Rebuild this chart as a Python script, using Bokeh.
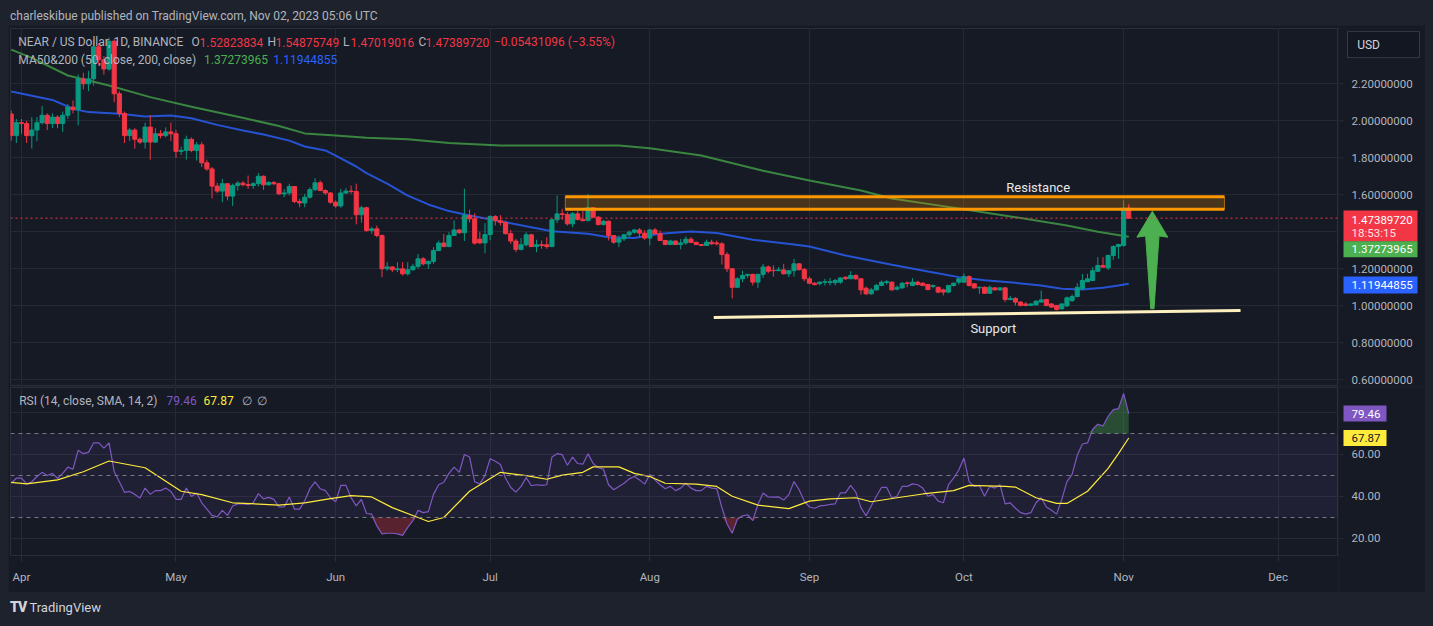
import numpy as np
import pandas as pd
from bokeh.plotting import figure
from bokeh.models import (ColumnDataSource, Range1d, FixedTicker, Span, BoxAnnotation, Label,
                          DatetimeTickFormatter, Div)
from bokeh.core.properties import value
from bokeh.layouts import column, row
from bokeh.embed import file_html
from bokeh.resources import INLINE

# ---------------------------------------------------------------- data
dates = pd.date_range("2023-03-30", "2023-11-02", freq="D")

open_ = [
    2.037, 1.920,
    1.990, 1.985, 1.920, 1.950, 1.990, 2.030, 1.985, 2.020, 1.985, 2.030, 2.074, 2.060, 2.227, 2.200, 2.227,
    2.400, 2.330, 2.280, 2.430, 2.146, 2.040, 1.920, 1.950, 1.900, 1.885, 1.966, 1.885, 1.930, 1.920, 1.940,
    1.930, 1.835, 1.840, 1.900, 1.840, 1.870, 1.773, 1.740, 1.647, 1.620, 1.660, 1.593, 1.650, 1.663, 1.655,
    1.650, 1.660, 1.700, 1.654, 1.666, 1.660, 1.605, 1.610, 1.645, 1.564, 1.556, 1.587, 1.628, 1.665, 1.623, 1.610,
    1.560, 1.540, 1.610, 1.620, 1.618, 1.492, 1.530, 1.407, 1.416, 1.380, 1.200, 1.210, 1.195, 1.200, 1.173,
    1.195, 1.213, 1.254, 1.227, 1.240, 1.299, 1.339, 1.320, 1.380, 1.410, 1.395, 1.488, 1.470, 1.360, 1.340,
    1.385, 1.483, 1.460, 1.450, 1.390, 1.350, 1.305, 1.330, 1.384, 1.320, 1.330, 1.330, 1.320, 1.465, 1.497,
    1.494, 1.443, 1.497, 1.467, 1.460, 1.530, 1.479, 1.440, 1.457, 1.380, 1.344, 1.362, 1.384, 1.398, 1.410, 1.393,
    1.366, 1.410, 1.390, 1.353, 1.331, 1.350, 1.331, 1.340, 1.360, 1.343, 1.331, 1.326, 1.344, 1.340, 1.335,
    1.277, 1.200, 1.100, 1.146, 1.164, 1.170, 1.128, 1.170, 1.210, 1.192, 1.190, 1.194, 1.173, 1.190, 1.227, 1.196,
    1.146, 1.122, 1.120, 1.128, 1.126, 1.125, 1.128, 1.155, 1.146, 1.164, 1.146, 1.095, 1.065, 1.086, 1.110,
    1.126, 1.128, 1.090, 1.097, 1.124, 1.110, 1.128, 1.122, 1.115, 1.105, 1.100, 1.086, 1.074, 1.110, 1.128,
    1.128, 1.158, 1.119, 1.097, 1.100, 1.068, 1.097, 1.086, 1.097, 1.034, 1.040, 1.020, 1.010, 1.002, 1.005,
    1.020, 1.034, 1.010, 1.002, 0.984, 1.000, 1.029, 1.050, 1.092, 1.130, 1.137, 1.187, 1.218, 1.205, 1.272, 1.320,
    1.326, 1.52823834,
]
high = [
    2.055, 2.010,
    2.010, 2.000, 2.020, 2.020, 2.080, 2.040, 2.040, 2.030, 2.050, 2.090, 2.110, 2.250, 2.260, 2.270, 2.440,
    2.420, 2.350, 2.450, 2.440, 2.160, 2.050, 1.960, 1.960, 1.910, 1.990, 2.030, 1.960, 1.950, 1.965, 1.990,
    1.950, 1.860, 1.920, 1.910, 1.885, 1.885, 1.790, 1.750, 1.665, 1.686, 1.660, 1.660, 1.674, 1.674, 1.704,
    1.668, 1.717, 1.705, 1.675, 1.674, 1.665, 1.630, 1.660, 1.645, 1.578, 1.605, 1.640, 1.690, 1.677, 1.630, 1.614,
    1.570, 1.632, 1.636, 1.650, 1.660, 1.540, 1.535, 1.425, 1.434, 1.385, 1.236, 1.214, 1.236, 1.236, 1.236,
    1.227, 1.280, 1.263, 1.245, 1.317, 1.353, 1.389, 1.398, 1.461, 1.416, 1.633, 1.520, 1.500, 1.400, 1.447,
    1.490, 1.490, 1.490, 1.460, 1.410, 1.362, 1.367, 1.398, 1.389, 1.357, 1.353, 1.371, 1.470, 1.596, 1.524,
    1.506, 1.506, 1.515, 1.515, 1.605, 1.533, 1.485, 1.465, 1.461, 1.380, 1.380, 1.389, 1.407, 1.416, 1.420, 1.410,
    1.416, 1.420, 1.407, 1.357, 1.357, 1.353, 1.362, 1.375, 1.371, 1.347, 1.335, 1.357, 1.357, 1.353, 1.344,
    1.290, 1.205, 1.155, 1.190, 1.173, 1.173, 1.173, 1.227, 1.218, 1.218, 1.209, 1.227, 1.194, 1.254, 1.230, 1.205,
    1.158, 1.128, 1.131, 1.146, 1.150, 1.146, 1.155, 1.158, 1.187, 1.170, 1.150, 1.104, 1.097, 1.119, 1.137,
    1.140, 1.131, 1.110, 1.128, 1.131, 1.150, 1.135, 1.128, 1.119, 1.115, 1.104, 1.092, 1.113, 1.126, 1.150,
    1.175, 1.165, 1.122, 1.104, 1.104, 1.110, 1.100, 1.100, 1.100, 1.054, 1.047, 1.025, 1.020, 1.013, 1.029,
    1.083, 1.038, 1.013, 1.002, 1.013, 1.050, 1.061, 1.122, 1.173, 1.173, 1.209, 1.263, 1.263, 1.277, 1.326, 1.335,
    1.570, 1.54875749,
]
low = [
    1.893, 1.880,
    1.930, 1.880, 1.850, 1.890, 1.980, 1.950, 1.960, 1.960, 1.940, 2.010, 2.040, 1.975, 2.170, 2.160, 2.190,
    2.300, 2.250, 2.270, 2.100, 2.020, 1.880, 1.890, 1.850, 1.875, 1.850, 1.790, 1.880, 1.905, 1.910, 1.890,
    1.800, 1.815, 1.790, 1.830, 1.785, 1.750, 1.730, 1.580, 1.610, 1.560, 1.570, 1.540, 1.623, 1.645, 1.632,
    1.632, 1.645, 1.627, 1.650, 1.652, 1.600, 1.587, 1.597, 1.555, 1.533, 1.533, 1.580, 1.620, 1.620, 1.600, 1.552,
    1.530, 1.530, 1.605, 1.605, 1.440, 1.450, 1.400, 1.390, 1.370, 1.155, 1.190, 1.182, 1.182, 1.164, 1.164,
    1.190, 1.200, 1.218, 1.200, 1.227, 1.295, 1.317, 1.317, 1.380, 1.389, 1.350, 1.450, 1.330, 1.335, 1.284,
    1.354, 1.434, 1.434, 1.385, 1.335, 1.290, 1.300, 1.320, 1.317, 1.290, 1.308, 1.308, 1.317, 1.447, 1.465,
    1.434, 1.425, 1.461, 1.457, 1.460, 1.475, 1.434, 1.434, 1.353, 1.335, 1.317, 1.350, 1.371, 1.389, 1.371, 1.357,
    1.326, 1.385, 1.350, 1.328, 1.330, 1.328, 1.305, 1.330, 1.339, 1.328, 1.322, 1.326, 1.330, 1.326, 1.223,
    1.182, 1.040, 1.100, 1.128, 1.150, 1.110, 1.097, 1.151, 1.176, 1.158, 1.187, 1.169, 1.155, 1.158, 1.190, 1.133,
    1.119, 1.110, 1.110, 1.110, 1.110, 1.110, 1.119, 1.140, 1.146, 1.140, 1.060, 1.058, 1.060, 1.083, 1.106,
    1.115, 1.083, 1.083, 1.092, 1.101, 1.106, 1.110, 1.106, 1.083, 1.095, 1.068, 1.056, 1.068, 1.104, 1.115,
    1.126, 1.104, 1.092, 1.065, 1.065, 1.065, 1.083, 1.080, 1.020, 1.030, 1.002, 0.997, 0.997, 1.000, 1.002,
    1.020, 0.997, 0.990, 0.975, 0.979, 0.993, 1.020, 1.047, 1.086, 1.128, 1.133, 1.182, 1.205, 1.194, 1.249, 1.254,
    1.320, 1.47019016,
]
close = [
    1.920, 1.990,
    1.985, 1.920, 1.950, 1.990, 2.030, 1.985, 2.020, 1.985, 2.030, 2.074, 2.060, 2.227, 2.200, 2.227, 2.400,
    2.330, 2.280, 2.430, 2.146, 2.040, 1.920, 1.950, 1.900, 1.885, 1.966, 1.885, 1.930, 1.920, 1.940, 1.930,
    1.835, 1.840, 1.900, 1.840, 1.870, 1.773, 1.740, 1.647, 1.620, 1.660, 1.593, 1.650, 1.663, 1.655, 1.650,
    1.660, 1.700, 1.654, 1.666, 1.660, 1.605, 1.610, 1.645, 1.564, 1.556, 1.587, 1.628, 1.665, 1.623, 1.610, 1.560,
    1.540, 1.610, 1.620, 1.618, 1.492, 1.530, 1.407, 1.416, 1.380, 1.200, 1.210, 1.195, 1.200, 1.173, 1.195,
    1.213, 1.254, 1.227, 1.240, 1.299, 1.339, 1.320, 1.380, 1.410, 1.395, 1.488, 1.470, 1.339, 1.340, 1.385,
    1.483, 1.460, 1.450, 1.390, 1.350, 1.305, 1.330, 1.384, 1.320, 1.330, 1.326, 1.320, 1.465, 1.497, 1.494,
    1.443, 1.497, 1.467, 1.460, 1.530, 1.479, 1.440, 1.457, 1.380, 1.344, 1.362, 1.384, 1.398, 1.410, 1.393, 1.366,
    1.410, 1.390, 1.353, 1.331, 1.350, 1.331, 1.340, 1.360, 1.343, 1.331, 1.326, 1.344, 1.335, 1.335, 1.277,
    1.200, 1.100, 1.146, 1.164, 1.170, 1.128, 1.170, 1.210, 1.187, 1.190, 1.194, 1.173, 1.190, 1.227, 1.196, 1.146,
    1.122, 1.115, 1.128, 1.130, 1.130, 1.137, 1.150, 1.146, 1.164, 1.146, 1.086, 1.065, 1.086, 1.110, 1.128,
    1.130, 1.086, 1.100, 1.122, 1.120, 1.128, 1.115, 1.110, 1.088, 1.110, 1.074, 1.074, 1.110, 1.122, 1.146,
    1.158, 1.110, 1.097, 1.100, 1.068, 1.100, 1.086, 1.097, 1.034, 1.040, 1.020, 1.002, 1.002, 1.010, 1.025,
    1.032, 1.002, 0.993, 0.980, 1.010, 1.043, 1.050, 1.100, 1.137, 1.146, 1.190, 1.218, 1.209, 1.272, 1.320, 1.331,
    1.52823834, 1.47389720,
]
rsi = [
    46.3, 48.7,
    48.7, 46.0, 47.0, 49.5, 51.5, 50.0, 51.0, 48.7, 51.0, 54.0, 53.0, 62.0, 60.4, 61.0, 65.5,
    65.5, 63.0, 65.5, 51.8, 47.0, 42.0, 42.4, 41.0, 39.3, 44.0, 41.0, 42.8, 42.8, 44.0, 42.4,
    38.6, 38.6, 44.0, 40.0, 41.7, 37.0, 34.0, 31.0, 30.3, 33.4, 31.0, 35.5, 36.5, 36.5, 36.2,
    37.0, 41.4, 38.9, 39.6, 38.6, 35.0, 35.0, 39.8, 34.0, 34.0, 38.0, 43.7, 47.0, 43.7, 42.8, 39.4,
    37.5, 45.3, 45.3, 39.4, 35.5, 38.6, 31.9, 31.6, 26.0, 22.2, 22.5, 22.5, 22.2, 21.5, 25.3,
    28.5, 33.4, 32.3, 32.8, 41.0, 45.6, 46.8, 51.0, 54.0, 51.5, 60.0, 58.8, 47.0, 46.0, 50.0,
    58.0, 56.8, 55.2, 48.7, 44.3, 42.1, 44.8, 49.0, 45.1, 45.6, 45.3, 45.6, 58.8, 60.4, 59.9,
    54.9, 58.8, 55.7, 55.4, 60.4, 55.7, 53.7, 53.0, 45.6, 43.2, 44.8, 46.3, 48.4, 49.5, 47.9, 45.9,
    50.5, 47.9, 45.6, 43.7, 44.8, 42.8, 44.0, 46.3, 44.0, 42.8, 42.8, 44.8, 44.0, 43.7, 34.7,
    26.9, 22.5, 29.2, 30.8, 31.3, 28.5, 36.2, 41.7, 39.8, 39.7, 39.8, 38.3, 40.9, 47.1, 43.2, 37.8,
    35.0, 34.4, 35.5, 35.8, 36.2, 36.5, 41.7, 41.7, 45.3, 42.1, 34.7, 30.8, 35.5, 40.1, 44.3,
    44.3, 39.4, 40.1, 44.8, 44.8, 46.0, 45.6, 44.0, 40.1, 40.9, 37.8, 37.0, 45.6, 48.7, 52.6,
    58.3, 47.1, 44.8, 45.3, 40.1, 44.8, 44.0, 45.6, 36.5, 37.0, 34.4, 32.3, 31.6, 32.3, 37.0,
    39.4, 35.0, 33.4, 31.6, 38.6, 47.1, 50.5, 59.6, 65.0, 65.5, 72.0, 74.4, 73.6, 78.2, 81.4, 81.8,
    89.1, 79.46,
]

ma50_dates = ["2023-03-30", "2023-04-07", "2023-04-11", "2023-04-14", "2023-04-20", "2023-04-25",
              "2023-04-30", "2023-05-04", "2023-05-09", "2023-05-14", "2023-05-18", "2023-05-23",
              "2023-05-26", "2023-05-30", "2023-06-01", "2023-06-05", "2023-06-07", "2023-06-11",
              "2023-06-15", "2023-06-19", "2023-06-23", "2023-06-27", "2023-07-04", "2023-07-13",
              "2023-07-20", "2023-07-24", "2023-07-29", "2023-08-03", "2023-08-09", "2023-08-14",
              "2023-08-21", "2023-08-29", "2023-09-01", "2023-09-08", "2023-09-17", "2023-09-24",
              "2023-09-30", "2023-10-05", "2023-10-11", "2023-10-16", "2023-10-20", "2023-10-24",
              "2023-10-28", "2023-10-31", "2023-11-02"]
ma50_vals = [2.158, 2.113, 2.065, 2.047, 2.038, 2.023, 2.029, 2.014, 1.978, 1.948, 1.926, 1.893,
             1.861, 1.840, 1.812, 1.753, 1.717, 1.660, 1.596, 1.548, 1.512, 1.488, 1.452, 1.403,
             1.389, 1.371, 1.366, 1.389, 1.402, 1.393, 1.357, 1.332, 1.321, 1.272, 1.222, 1.185,
             1.155, 1.138, 1.124, 1.110, 1.092, 1.088, 1.097, 1.110, 1.11944855]

ma200_dates = ["2023-03-30", "2023-04-03", "2023-04-10", "2023-04-18", "2023-04-26", "2023-05-04",
               "2023-05-13", "2023-05-21", "2023-05-26", "2023-06-01", "2023-06-07", "2023-06-15",
               "2023-06-23", "2023-07-03", "2023-07-13", "2023-07-26", "2023-08-01", "2023-08-11",
               "2023-08-23", "2023-09-01", "2023-09-11", "2023-09-17", "2023-09-24", "2023-09-30",
               "2023-10-11", "2023-10-21", "2023-10-27", "2023-11-02"]
ma200_vals = [2.385, 2.340, 2.245, 2.191, 2.128, 2.076, 2.022, 1.972, 1.932, 1.921, 1.908, 1.900,
              1.880, 1.866, 1.866, 1.866, 1.852, 1.812, 1.730, 1.677, 1.623, 1.580, 1.551, 1.526,
              1.479, 1.434, 1.400, 1.37273965]

rsi_ma_dates = ["2023-03-30", "2023-04-02", "2023-04-08", "2023-04-13", "2023-04-18", "2023-04-25",
                "2023-05-02", "2023-05-06", "2023-05-12", "2023-05-21", "2023-05-26", "2023-05-31",
                "2023-06-04", "2023-06-08", "2023-06-12", "2023-06-17", "2023-06-19", "2023-06-22",
                "2023-06-27", "2023-07-03", "2023-07-08", "2023-07-12", "2023-07-15", "2023-07-19",
                "2023-07-21", "2023-07-26", "2023-07-29", "2023-08-01", "2023-08-04", "2023-08-10",
                "2023-08-14", "2023-08-17", "2023-08-22", "2023-08-28", "2023-09-01", "2023-09-05",
                "2023-09-10", "2023-09-13", "2023-09-18", "2023-09-23", "2023-09-29", "2023-10-02",
                "2023-10-09", "2023-10-11", "2023-10-15", "2023-10-19", "2023-10-21", "2023-10-25",
                "2023-10-29", "2023-10-31", "2023-11-02"]
rsi_ma_vals = [46.7, 46.0, 47.9, 51.8, 56.9, 53.7, 42.5, 40.9, 37.0, 35.9, 37.0, 39.0, 40.4, 39.8,
               34.7, 30.0, 28.1, 30.0, 42.5, 51.5, 49.9, 48.2, 50.2, 51.5, 54.1, 54.1, 51.0, 49.5,
               46.3, 45.9, 44.8, 40.1, 35.9, 34.2, 37.8, 38.9, 39.4, 37.5, 39.4, 41.2, 42.8, 45.3,
               44.8, 44.5, 39.4, 36.7, 36.7, 42.5, 53.4, 60.4, 67.87]

month_ticks = ["2023-04-01", "2023-05-01", "2023-06-01", "2023-07-01", "2023-08-01",
               "2023-09-01", "2023-10-01", "2023-11-01", "2023-12-01"]
price_ticks = [0.6, 0.8, 1.0, 1.2, 1.6, 1.8, 2.0, 2.2]
price_grid = [0.6, 0.8, 1.0, 1.2, 1.4, 1.6, 1.8, 2.0, 2.2]
rsi_ticks = [20, 40, 60]
rsi_grid = [20, 40, 60, 80]
rsi_levels = [70, 50, 30]

resistance_dates = ["2023-07-15 14:00", "2023-11-20 14:00"]
resistance_band = [1.522, 1.590]
support_dates = ["2023-08-13 10:00", "2023-11-23 17:00"]
support_vals = [0.937, 0.975]
arrow_date = "2023-11-06 14:00"
arrow_dx_days = [0, 3.0, 1.3, 0.32, -0.32, -1.3, -3.0]
arrow_vals = [1.511, 1.371, 1.378, 0.984, 0.984, 1.378, 1.371]

last_close, ma200_last, ma50_last = 1.47389720, 1.37273965, 1.11944855
rsi_last, rsi_ma_last = 79.46, 67.87
countdown = "18:53:15"

# ---------------------------------------------------------------- style
DAY = 86_400_000
BG, OUTER, GRID, LINE = "#161A25", "#1E222D", "#252935", "#2A2E39"
TXT, UP, DN = "#B2B5BE", "#089981", "#F23645"
FONT = "Roboto"
W_MAIN, W_AX = 1330, 87


def ms(s):
    return pd.Timestamp(s).value / 1e6


month_ms = [ms(m) for m in month_ticks]
apr1 = ms("2023-04-01")
xr = Range1d(apr1 - 2.136 * DAY, apr1 + 255.73 * DAY)
yr_price = Range1d(0.5638, 2.499)
yr_rsi = Range1d(11.9, 91.9)


def lab(fig, x, y, text, color, size="12px", xu="screen", yu="screen",
        align="left", baseline="middle", **kw):
    fig.add_layout(Label(x=x, y=y, x_units=xu, y_units=yu, text=text, text_color=color,
                         text_font=FONT, text_font_size=size, text_align=align,
                         text_baseline=baseline, **kw))


def axis_panel(height, yr, ticks, fmt, top, bottom):
    """Right-hand price scale: tick marks and labels placed with the pane's y scale."""
    a = figure(width=W_AX, height=height, x_range=Range1d(0, W_AX), y_range=yr,
               x_axis_location=None, y_axis_location=None,
               output_backend="svg", toolbar_location=None,
               min_border_left=0, min_border_right=0, min_border_top=top, min_border_bottom=bottom,
               background_fill_color=BG, border_fill_color=BG, outline_line_color=None)
    a.grid.visible = False
    a.segment(x0=[0] * len(ticks), y0=ticks, x1=[5] * len(ticks), y1=ticks,
              line_color=LINE, line_width=1)
    a.text(x=[13] * len(ticks), y=ticks, text=[fmt % t for t in ticks],
           text_font=value(FONT), text_font_size=value("11.5px"), text_color=TXT,
           text_align="left", text_baseline="middle")
    return a


def txt(a, x, y, text, color, size="11.5px"):
    a.text(x=[x], y=[y], text=[text], text_font=value(FONT), text_font_size=value(size),
           text_color=color, text_align="left", text_baseline="middle")


def value_box(a, y, text, bg, color="#FFFFFF", box_w=74, box_h=16):
    a.rect(x=[5 + box_w / 2], y=[y], width=[box_w], height=[box_h], height_units="screen",
           fill_color=bg, line_color=None)
    txt(a, 13, y, text, color)


# ---------------------------------------------------------------- price pane
p = figure(width=W_MAIN, height=361, x_range=xr, y_range=yr_price,
           x_axis_type="datetime", x_axis_location=None, y_axis_location=None,
           output_backend="svg", toolbar_location=None,
           min_border_left=2, min_border_right=0, min_border_top=3, min_border_bottom=0,
           background_fill_color=BG, border_fill_color=BG, outline_line_color=LINE)
p.xgrid.ticker = FixedTicker(ticks=month_ms)
p.ygrid.ticker = FixedTicker(ticks=price_grid)
p.grid.grid_line_color = GRID

o = np.array(open_)
c = np.array(close)
src = ColumnDataSource(dict(x=dates, high=high, low=low,
                            top=np.maximum(o, c), bottom=np.minimum(o, c),
                            color=[UP if cc >= oo else DN for oo, cc in zip(open_, close)]))
p.line(x=pd.to_datetime(ma200_dates), y=ma200_vals, line_color="#43A047", line_alpha=0.8, line_width=2)
p.line(x=pd.to_datetime(ma50_dates), y=ma50_vals, line_color="#2962FF", line_alpha=0.8, line_width=2)
p.segment(x0="x", y0="high", x1="x", y1="low", line_color="color", line_width=1, source=src)
p.vbar(x="x", width=0.8 * DAY, top="top", bottom="bottom", fill_color="color",
       line_color="color", line_width=1, source=src)

rl, rr = ms(resistance_dates[0]), ms(resistance_dates[1])
p.quad(left=[rl], right=[rr], bottom=[resistance_band[0]], top=[resistance_band[1]],
       fill_color="#FF9800", fill_alpha=0.22, line_color="#FF9800", line_alpha=0.6, line_width=1)
p.segment(x0=[rl, rl], y0=resistance_band, x1=[rr, rr], y1=resistance_band,
          line_color="#FF9800", line_width=3)
p.line(x=[ms(d) for d in support_dates], y=support_vals, line_color="#FFF1BF", line_width=3)
ac = ms(arrow_date)
p.patch(x=[ac + dx * DAY for dx in arrow_dx_days], y=arrow_vals,
        fill_color="#4CAF50", line_color="#4CAF50", line_width=1)
p.add_layout(Span(location=last_close, dimension="width", line_color=DN,
                  line_dash="2 3", line_width=1))

lab(p, ms("2023-10-15 10:00"), 1.641, "Resistance", "#E8E8E8", size="13px",
    xu="data", yu="data", align="center")
lab(p, ms("2023-10-06 17:00"), 0.876, "Support", "#E8E8E8", size="13px",
    xu="data", yu="data", align="center")

y1, y2 = 344.3, 326.7
lab(p, 7.8, y1, "NEAR / US Dollar, 1D, BINANCE", TXT)
for xx, t, col in [(181, "O", TXT), (189, f"{open_[-1]:.8f}", DN), (257, "H", TXT),
                   (265, f"{high[-1]:.8f}", DN), (332.4, "L", TXT), (340, f"{low[-1]:.8f}", DN),
                   (408, "C", TXT), (415, f"{close[-1]:.8f}", DN),
                   (483.5, "\u22120.05431096 (\u22123.55%)", DN)]:
    lab(p, xx, y1, t, col)
lab(p, 7.8, y2, "MA50&200 (50, close, 200, close)", TXT)
lab(p, 193.6, y2, f"{ma200_last:.8f}", "#4CAF50")
lab(p, 262.8, y2, f"{ma50_last:.8f}", "#2962FF")

# price scale panel
pa = axis_panel(361, yr_price, price_ticks, "%.8f", top=3, bottom=0)
pa.rect(x=[45], y=[2.412], width=[72], height=[26], height_units="screen",
        fill_color="#131722", line_color="#363A45", line_width=1)
txt(pa, 18.7, 2.412, "USD", "#D1D4DC", size="12px")
pa.rect(x=[42], y=[1.431], width=[74], height=[31], height_units="screen",
        fill_color=DN, line_color=None)
txt(pa, 13, 1.4665, f"{last_close:.8f}", "#FFFFFF")
txt(pa, 13, 1.396, countdown, "#FFE0E3")
value_box(pa, 1.306, f"{ma200_last:.8f}", "#4CAF50")
value_box(pa, 1.113, f"{ma50_last:.8f}", "#2962FF", box_h=17)

# ---------------------------------------------------------------- RSI pane
r = figure(width=W_MAIN, height=206, x_range=xr, y_range=yr_rsi,
           x_axis_type="datetime", y_axis_location=None,
           output_backend="svg", toolbar_location=None,
           min_border_left=2, min_border_right=0, min_border_top=1, min_border_bottom=37,
           background_fill_color=BG, border_fill_color=BG, outline_line_color=LINE)
r.xgrid.ticker = FixedTicker(ticks=month_ms)
r.ygrid.ticker = FixedTicker(ticks=rsi_grid)
r.grid.grid_line_color = GRID
xa = r.xaxis[0]
xa.ticker = FixedTicker(ticks=month_ms)
xa.formatter = DatetimeTickFormatter(**{k: "%b" for k in [
    "milliseconds", "seconds", "minsec", "minutes", "hourmin", "hours", "days", "months", "years"]})
xa.axis_line_color = None
xa.major_tick_line_color = LINE
xa.major_tick_in = 0
xa.major_tick_out = 6
xa.minor_tick_line_color = None
xa.major_label_standoff = 8
xa.major_label_text_color = TXT
xa.major_label_text_font = FONT
xa.major_label_text_font_size = "11.5px"

r.add_layout(BoxAnnotation(bottom=30, top=70, fill_color="#7E57C2", fill_alpha=0.1,
                           line_color=None, level="underlay"))
for lv in rsi_levels:
    r.add_layout(Span(location=lv, dimension="width", line_color="#787B86",
                      line_dash="4 4", line_width=1))
ra = np.array(rsi)
r.varea(x=dates, y1=np.full(len(ra), 70.0), y2=np.maximum(ra, 70.0),
        fill_color="#4CAF50", fill_alpha=0.35)
r.varea(x=dates, y1=np.minimum(ra, 30.0), y2=np.full(len(ra), 30.0),
        fill_color="#F23645", fill_alpha=0.3)
r.line(x=dates, y=rsi, line_color="#7E57C2", line_width=1.2)
r.line(x=pd.to_datetime(rsi_ma_dates), y=rsi_ma_vals, line_color="#FFEB3B", line_width=1.2)

lab(r, 8.7, 155, "RSI (14, close, SMA, 14, 2)", TXT)
lab(r, 156, 155, f"{rsi_last:.2f}", "#7E57C2")
lab(r, 193, 155, f"{rsi_ma_last:.2f}", "#FFEB3B")
lab(r, 231, 155, "\u2205", TXT)
lab(r, 246.7, 155, "\u2205", TXT)

ra_ax = axis_panel(206, yr_rsi, rsi_ticks, "%.2f", top=1, bottom=37)
value_box(ra_ax, rsi_last, f"{rsi_last:.2f}", "#7E57C2", box_w=43)
value_box(ra_ax, rsi_ma_last, f"{rsi_ma_last:.2f}", "#FFEB3B", color="#131722", box_w=43)

# ---------------------------------------------------------------- header / footer
W = W_MAIN + W_AX
header = Div(text='<div style="padding-left:2px;font-family:Roboto;font-size:12px;'
                  'color:#B2B5BE;line-height:15px;white-space:nowrap;">'
                  'charleskibue published on TradingView.com, Nov 02, 2023 05:06 UTC</div>',
             width=W, height=17, margin=(0, 0, 0, 0), styles={"background-color": OUTER})
footer = Div(text='<div style="padding-left:2px;font-family:Roboto;font-size:13px;'
                  'color:#D1D4DC;line-height:30px;white-space:nowrap;">'
                  '<b style="font-size:14px;font-weight:900;letter-spacing:-1px;">TV</b>'
                  '&nbsp;TradingView</div>',
             width=W, height=26, margin=(0, 0, 0, 0), styles={"background-color": OUTER})

layout = column(header, row(p, pa, spacing=0), row(r, ra_ax, spacing=0), footer, spacing=0)

html = file_html(layout, INLINE, title="NEAR / US Dollar")
page_css = ("<style>html{background:#1E222D !important;}"
            "body{background:#1E222D !important;margin:8px !important;height:auto !important;}</style>")
html = html.replace("</head>", page_css + "</head>", 1)
open("out.html", "w").write(html)
